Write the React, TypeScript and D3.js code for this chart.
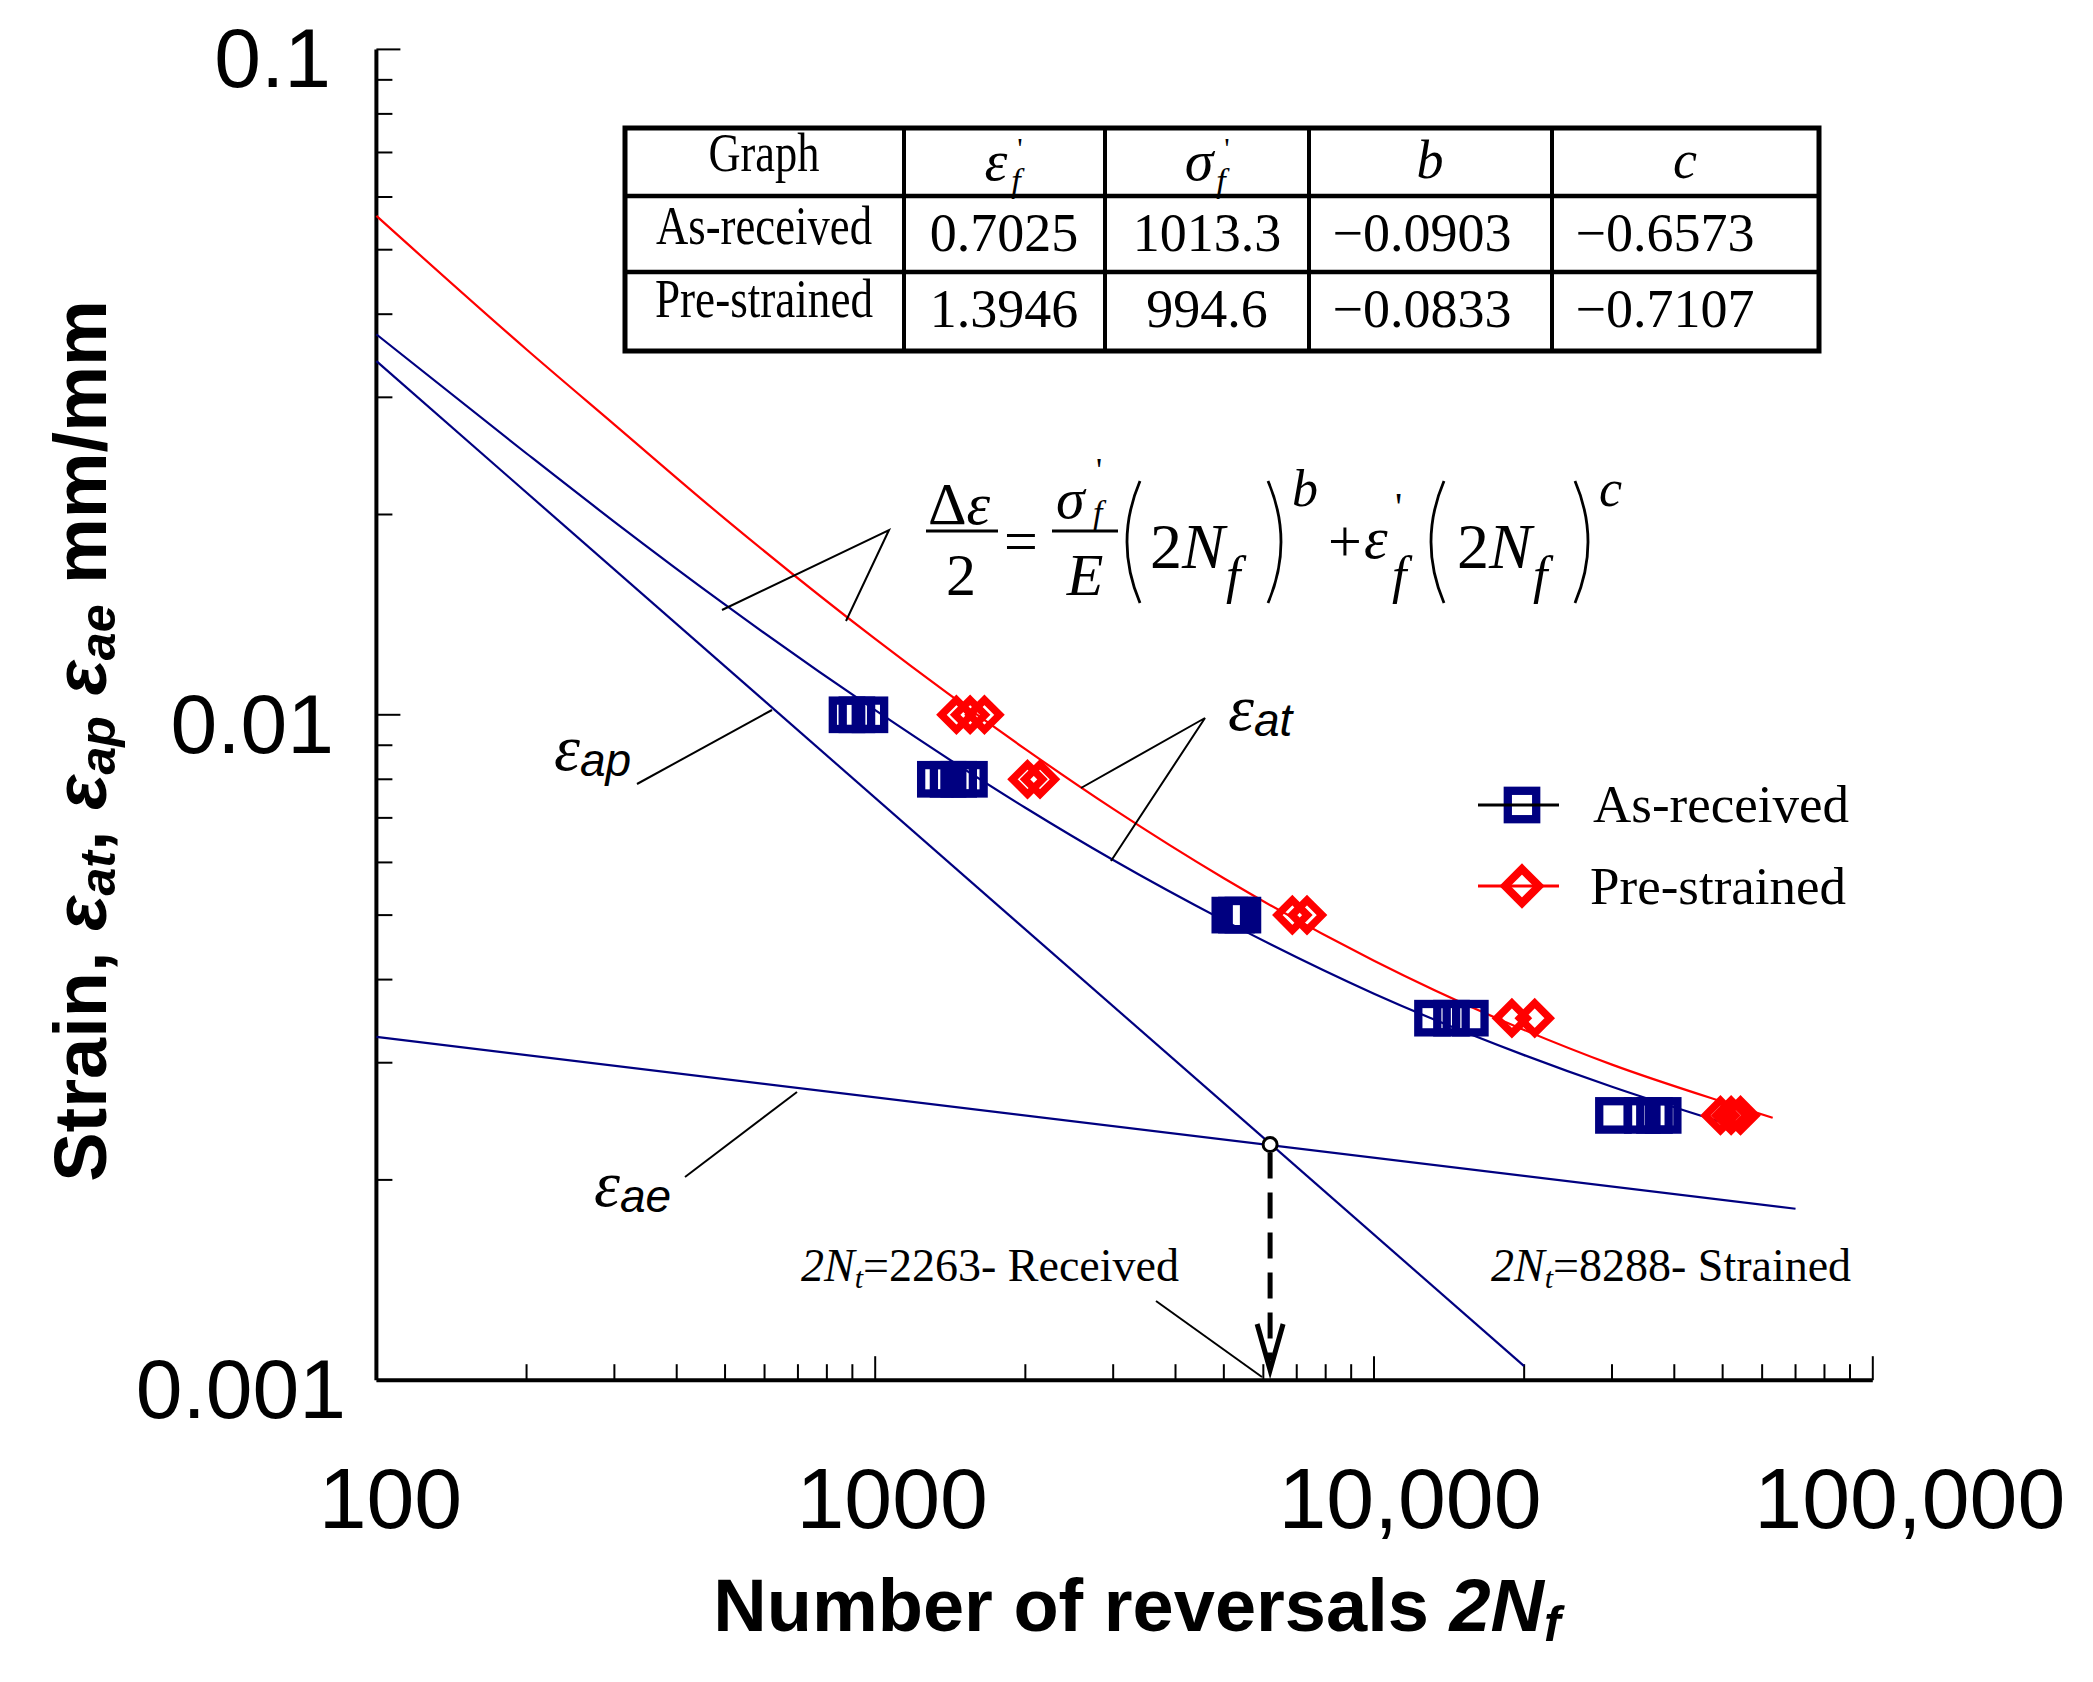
import React from 'react';
import * as d3 from 'd3';

const W = 2093;
const H = 1682;

// fitted curves as (2Nf, strain amplitude)
const receivedCurveLife = [100, 200, 300, 500, 1000, 2000, 3000, 5000, 10000, 20000, 30000, 49000];
const receivedCurveStrain = [0.0373, 0.0247, 0.0195, 0.01464, 0.01016, 0.00725, 0.00605, 0.00491, 0.00381, 0.00308, 0.00276, 0.00245];
const strainedCurveLife = [100, 200, 300, 500, 1000, 2000, 3000, 5000, 10000, 20000, 30000, 50000, 63000];
const strainedCurveStrain = [0.0562, 0.0354, 0.0273, 0.0197, 0.013, 0.00888, 0.00722, 0.00568, 0.00427, 0.00336, 0.00298, 0.00262, 0.00248];
const elasticLife = [100, 70000];
const elasticStrain = [0.00328, 0.00181];
const plasticLife = [100, 20000];
const plasticStrain = [0.034, 0.00105];

// test points: one strain level, several specimens each
const strainLevels = [0.01, 0.008, 0.005, 0.0035, 0.0025];
const receivedLife = [
  [878, 919, 976],
  [1320, 1400, 1470, 1545],
  [5140, 5300, 5460],
  [13100, 14300, 15600],
  [30200, 34500, 36500, 38000],
];
const strainedLife = [
  [1455, 1550, 1656],
  [2020, 2140],
  [6860, 7340],
  [18900, 21000],
  [49500, 52000, 54300],
];

const transitionLife = 6190;
const transitionStrain = 0.00226;

const tableRowNames = ['As-received', 'Pre-strained'];
const tableValues = [
  ['0.7025', '1013.3', '\u22120.0903', '\u22120.6573'],
  ['1.3946', '994.6', '\u22120.0833', '\u22120.7107'],
];

const xTickValues = [100, 1000, 10000, 100000];
const xTickLabels = ['100', '1000', '10,000', '100,000'];
const yTickValues = [0.1, 0.01, 0.001];
const yTickLabels = ['0.1', '0.01', '0.001'];

const NAVY = '#000080';
const RED = '#ff0000';
const SERIF = "'Liberation Serif', 'Times New Roman', serif";
const SANS = "'Liberation Sans', Arial, sans-serif";

const zip = (a: number[], b: number[]) => a.map((v, i) => [v, b[i]] as [number, number]);

const diamond = (cx: number, cy: number, h: number) =>
  `M${cx},${cy - h}L${cx + h},${cy}L${cx},${cy + h}L${cx - h},${cy}Z`;

const paren = (x0: number, top: number, bot: number, bulge: number) =>
  `M${x0},${top}Q${x0 + bulge},${(top + bot) / 2} ${x0},${bot}`;

export default function App() {
  const x = d3.scaleLog().domain([100, 100000]).range([376.4, 1872.8]);
  const y = d3.scaleLog().domain([0.001, 0.1]).range([1380.2, 49.4]);
  const line = d3
    .line<[number, number]>()
    .x(d => x(d[0]))
    .y(d => y(d[1]))
    .curve(d3.curveMonotoneX);

  const isMajor = (v: number) => Math.abs(Math.log10(v) - Math.round(Math.log10(v))) < 1e-6;
  const xTicks = x.ticks();
  const yTicks = y.ticks();
  const x0 = x.range()[0];
  const y0 = y.range()[0];

  // table grid
  const tL = 625, tR = 1819, tT = 128, tB = 351;
  const colX = [904, 1105, 1309, 1552];
  const rowY = [196, 272];
  const colC = [764, 1004, 1207, 1422, 1665];
  const nameWidth = [216, 218];

  const tx = x(transitionLife);
  const ty = y(transitionStrain);

  const xLabelShift = [14, 17, 36, 37];
  const yLabelRight = [331, 334, 346];

  return (
    <svg
      width={W}
      height={H}
      viewBox={`0 0 ${W} ${H}`}
      style={{ position: 'absolute', left: 0, top: 0, display: 'block', background: '#fff' }}
    >
      <rect width={W} height={H} fill="#fff" />

      {/* axes */}
      <g stroke="#000">
        <line x1={x0} x2={x.range()[1]} y1={y0} y2={y0} strokeWidth={4} />
        <line x1={x0} x2={x0} y1={y0} y2={y.range()[1]} strokeWidth={4} />
        {xTicks.filter(v => v > 100).map(v => (
          <line key={'xt' + v} x1={x(v)} x2={x(v)} y1={y0} y2={y0 - (isMajor(v) ? 24 : 16)} strokeWidth={2} />
        ))}
        {yTicks.filter(v => v > 0.001).map(v => (
          <line key={'yt' + v} x1={x0} x2={x0 + (isMajor(v) ? 24 : 16)} y1={y(v)} y2={y(v)} strokeWidth={2} />
        ))}
      </g>

      {xTickValues.map((v, i) => (
        <text key={'xl' + v} x={x(v) + xLabelShift[i]} y={1528} textAnchor="middle" fontFamily={SANS} fontSize={86}>
          {xTickLabels[i]}
        </text>
      ))}
      {yTickValues.map((v, i) => (
        <text key={'yl' + v} x={yLabelRight[i]} y={y(v) + 38} textAnchor="end" fontFamily={SANS} fontSize={84}>
          {yTickLabels[i]}
        </text>
      ))}

      {/* axis titles */}
      <text x={1137} y={1631} textAnchor="middle" fontFamily={SANS} fontWeight="bold" fontSize={74}>
        {'Number of reversals '}
        <tspan fontStyle="italic">2N</tspan>
        <tspan fontStyle="italic" fontSize={50} dy={10}>f</tspan>
      </text>
      <text transform="translate(106,741) rotate(-90)" textAnchor="middle" fontFamily={SANS} fontWeight="bold" fontSize={74}>
        <tspan>{'Strain, '}</tspan>
        <tspan fontStyle="italic">ε</tspan>
        <tspan fontStyle="italic" fontSize={50} dy={9}>at</tspan>
        <tspan dy={-9}>{', '}</tspan>
        <tspan fontStyle="italic">ε</tspan>
        <tspan fontStyle="italic" fontSize={50} dy={9}>ap</tspan>
        <tspan dy={-9}>{' '}</tspan>
        <tspan fontStyle="italic">ε</tspan>
        <tspan fontStyle="italic" fontSize={50} dy={9}>ae</tspan>
        <tspan dy={-9}>{' mm/mm'}</tspan>
      </text>

      {/* model lines */}
      <g fill="none" strokeWidth={2.2}>
        <path d={line(zip(elasticLife, elasticStrain)) || ''} stroke={NAVY} />
        <path d={line(zip(plasticLife, plasticStrain)) || ''} stroke={NAVY} />
        <path d={line(zip(receivedCurveLife, receivedCurveStrain)) || ''} stroke={NAVY} />
        <path d={line(zip(strainedCurveLife, strainedCurveStrain)) || ''} stroke={RED} />
      </g>

      {/* test points */}
      <g fill="none" stroke={NAVY} strokeWidth={8.3}>
        {receivedLife.map((lives, i) =>
          lives.map(n => (
            <rect key={'s' + i + '-' + n} x={x(n) - 14.2} y={y(strainLevels[i]) - 14.2} width={28.4} height={28.4} />
          ))
        )}
      </g>
      <g fill="none" stroke={RED} strokeWidth={7.5} strokeLinejoin="miter">
        {strainedLife.map((lives, i) =>
          lives.map(n => <path key={'d' + i + '-' + n} d={diamond(x(n), y(strainLevels[i]), 15)} />)
        )}
      </g>

      {/* transition life marker */}
      <line x1={tx} x2={tx} y1={ty + 8} y2={1360} stroke="#000" strokeWidth={5} strokeDasharray="26 14" />
      <path d={`M${tx - 13},${1324}L${tx},${1370}L${tx + 13},${1324}`} fill="none" stroke="#000" strokeWidth={5} />
      <circle cx={tx} cy={ty} r={7} fill="#fff" stroke="#000" strokeWidth={3} />

      {/* leader lines */}
      <g stroke="#000" strokeWidth={2} fill="none">
        <path d="M722,610L889,530L846,621" />
        <path d="M637,784L772,710" />
        <path d="M1081,788L1205,718L1111,861" />
        <path d="M685,1177L797,1092" />
        <path d="M1156,1301L1262,1377" />
      </g>

      {/* strain labels */}
      {[
        { x: 1228, y: 730, sub: 'at' },
        { x: 554, y: 770, sub: 'ap' },
        { x: 594, y: 1206, sub: 'ae' },
      ].map(l => (
        <text key={l.sub} x={l.x} y={l.y}>
          <tspan fontFamily={SERIF} fontStyle="italic" fontSize={66}>ε</tspan>
          <tspan fontFamily={SANS} fontStyle="italic" fontSize={46} dy={6}>{l.sub}</tspan>
        </text>
      ))}

      {/* transition annotations */}
      <text x={801} y={1281} fontFamily={SERIF} fontSize={46}>
        <tspan fontStyle="italic">2N</tspan>
        <tspan fontStyle="italic" fontSize={30} dy={7}>t</tspan>
        <tspan dy={-7}>=2263- Received</tspan>
      </text>
      <text x={1491} y={1281} fontFamily={SERIF} fontSize={46}>
        <tspan fontStyle="italic">2N</tspan>
        <tspan fontStyle="italic" fontSize={30} dy={7}>t</tspan>
        <tspan dy={-7}>=8288- Strained</tspan>
      </text>

      {/* equation */}
      <g fontFamily={SERIF} fill="#000">
        <text x={928} y={524} fontSize={60}>
          Δ<tspan fontStyle="italic">ε</tspan>
        </text>
        <line x1={926} x2={998} y1={531} y2={531} stroke="#000" strokeWidth={3} />
        <text x={961} y={595} fontSize={60} textAnchor="middle">2</text>
        <text x={1021} y={561} fontSize={60} textAnchor="middle">=</text>
        <text x={1056} y={518} fontSize={58} fontStyle="italic">σ</text>
        <text x={1096} y={481} fontSize={34}>'</text>
        <text x={1093} y={524} fontSize={34} fontStyle="italic">f</text>
        <line x1={1052} x2={1118} y1={531} y2={531} stroke="#000" strokeWidth={3} />
        <text x={1085} y={595} fontSize={60} fontStyle="italic" textAnchor="middle">E</text>
        <path d={paren(1140, 481, 603, -26)} fill="none" stroke="#000" strokeWidth={2.8} />
        <text x={1150} y={568} fontSize={64}>
          2<tspan fontStyle="italic">N</tspan>
        </text>
        <text x={1226} y={593} fontSize={52} fontStyle="italic">f</text>
        <path d={paren(1268, 481, 603, 26)} fill="none" stroke="#000" strokeWidth={2.8} />
        <text x={1292} y={506} fontSize={52} fontStyle="italic">b</text>
        <text x={1345} y={561} fontSize={60} textAnchor="middle">+</text>
        <text x={1364} y={558} fontSize={60} fontStyle="italic">ε</text>
        <text x={1395} y={520} fontSize={40}>'</text>
        <text x={1392} y={593} fontSize={52} fontStyle="italic">f</text>
        <path d={paren(1444, 481, 603, -26)} fill="none" stroke="#000" strokeWidth={2.8} />
        <text x={1457} y={568} fontSize={64}>
          2<tspan fontStyle="italic">N</tspan>
        </text>
        <text x={1533} y={593} fontSize={52} fontStyle="italic">f</text>
        <path d={paren(1575, 481, 603, 26)} fill="none" stroke="#000" strokeWidth={2.8} />
        <text x={1599} y={506} fontSize={52} fontStyle="italic">c</text>
      </g>

      {/* parameter table */}
      <g fill="#fff" stroke="#000" strokeWidth={5}>
        <rect x={tL} y={tT} width={tR - tL} height={tB - tT} />
        {colX.map(cx => <line key={'c' + cx} x1={cx} x2={cx} y1={tT} y2={tB} strokeWidth={4} />)}
        {rowY.map(ry => <line key={'r' + ry} x1={tL} x2={tR} y1={ry} y2={ry} strokeWidth={4.5} />)}
      </g>
      <g fontFamily={SERIF} fontSize={54} textAnchor="middle" fill="#000">
        <text x={colC[0]} y={171} textLength={111} lengthAdjust="spacingAndGlyphs">Graph</text>
        <text x={colC[1] - 8} y={180} fontStyle="italic" fontSize={58}>ε</text>
        <text x={colC[1] + 12} y={192} fontSize={34} fontStyle="italic">f</text>
        <text x={colC[1] + 16} y={158} fontSize={30}>'</text>
        <text x={colC[2] - 8} y={180} fontStyle="italic" fontSize={58}>σ</text>
        <text x={colC[2] + 14} y={192} fontSize={34} fontStyle="italic">f</text>
        <text x={colC[2] + 20} y={158} fontSize={30}>'</text>
        <text x={1430} y={178} fontStyle="italic">b</text>
        <text x={1685} y={178} fontStyle="italic">c</text>
        {tableRowNames.map((name, r) => (
          <React.Fragment key={name}>
            <text x={colC[0]} y={r === 0 ? 244 : 317} textLength={nameWidth[r]} lengthAdjust="spacingAndGlyphs">
              {name}
            </text>
            {tableValues[r].map((v, c) => (
              <text key={name + c} x={colC[c + 1]} y={r === 0 ? 251 : 327}>{v}</text>
            ))}
          </React.Fragment>
        ))}
      </g>

      {/* legend */}
      <g>
        <rect x={1522 - 14.2} y={805 - 14.2} width={28.4} height={28.4} fill="none" stroke={NAVY} strokeWidth={8.3} />
        <line x1={1478} x2={1559} y1={805} y2={805} stroke="#000" strokeWidth={3} />
        <line x1={1478} x2={1559} y1={886} y2={886} stroke={RED} strokeWidth={3} />
        <path d={diamond(1522, 886, 17)} fill="none" stroke={RED} strokeWidth={8} />
        <text x={1593} y={822} fontFamily={SERIF} fontSize={53}>As-received</text>
        <text x={1590} y={904} fontFamily={SERIF} fontSize={53}>Pre-strained</text>
      </g>
    </svg>
  );
}
